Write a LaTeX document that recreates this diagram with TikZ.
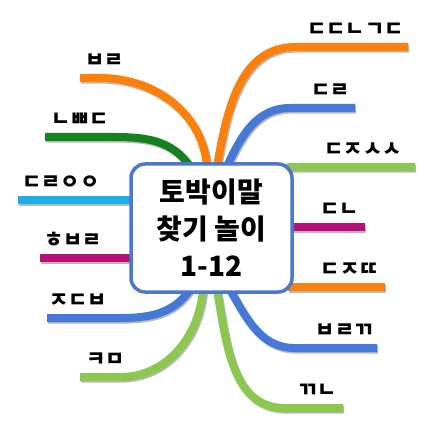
\documentclass[tikz,border=0pt]{standalone}
\usepackage{fontspec}
\newfontfamily\korfont{Noto Sans CJK KR}
\usetikzlibrary{positioning, shadows, backgrounds}
\definecolor{BranchOrange}{RGB}{252,128,10}
\definecolor{BranchBlue}{RGB}{70,120,215}
\definecolor{BranchGreen}{RGB}{20,130,30}
\definecolor{BranchLime}{RGB}{140,200,80}
\definecolor{BranchCyan}{RGB}{25,175,230}
\definecolor{BranchMagenta}{RGB}{185,15,125}
\definecolor{HubColor}{RGB}{75,120,205}
\tikzstyle{branch} = [line width=8pt, preaction={draw=black!28, line width=8pt, transform canvas={shift={(1.2pt,-1.6pt)}}}]
\tikzset{
  hub/.style={rectangle, rounded corners=14pt, draw=HubColor, line width=3.5pt, fill=white,
    minimum width=161pt, minimum height=128pt, align=center,
    font=\korfont\bfseries\fontsize{28}{37}\selectfont,
    drop shadow={opacity=0.25, shadow xshift=1.5pt, shadow yshift=-1.5pt}},
  leaf/.style={inner sep=0pt, font=\korfont\bfseries\fontsize{21}{21}\selectfont}
}

\begin{document}
\begin{tikzpicture}[x=1pt, y=1pt]
  \useasboundingbox (0,0) rectangle (438,423);

  % Centre
  \node[hub] (hub) at (211.5,195) {토박이말\\찾기 놀이\\1-12};

  % Branch ends
  \coordinate (e1) at (80,345);
  \coordinate (e2) at (45,286);
  \coordinate (e3) at (18,223);
  \coordinate (e4) at (40,165);
  \coordinate (e5) at (47,105);
  \coordinate (e6) at (80,46);
  \coordinate (e7) at (408,376);
  \coordinate (e8) at (355,315);
  \coordinate (e9) at (415,256);
  \coordinate (e10) at (365,196);
  \coordinate (e11) at (385,136);
  \coordinate (e12) at (377,75);
  \coordinate (e13) at (343,15);

  % Branches
  \begin{scope}[on background layer]
    \draw[branch, BranchOrange] (e1) -- ++(20,0) to[out=0, in=95] ([xshift=-4.5pt, yshift=-4pt]hub.north);
    \draw[branch, BranchGreen] (e2) -- ++(70,0) to[out=0, in=125] ([xshift=-21.5pt, yshift=-4pt]hub.north);
    \draw[branch, BranchCyan] (e3) -- ([xshift=6pt, yshift=28pt]hub.west);
    \draw[branch, BranchMagenta] (e4) -- ([xshift=6pt, yshift=-30pt]hub.west);
    \draw[branch, BranchBlue] (e5) -- ++(73,0) to[out=0, in=235] ([xshift=-21.5pt, yshift=4pt]hub.south);
    \draw[branch, BranchLime] (e6) -- ++(40,0) to[out=0, in=265] ([xshift=-8.5pt, yshift=4pt]hub.south);
    \draw[branch, BranchOrange] (e7) -- ++(-113,0) to[out=180, in=80] ([xshift=5.5pt, yshift=-4pt]hub.north);
    \draw[branch, BranchBlue] (e8) -- ++(-65,0) to[out=180, in=65] ([xshift=15.5pt, yshift=-4pt]hub.north);
    \draw[branch, BranchLime] (e9) -- ++(-125,0) to[out=180, in=45] ([xshift=-12pt, yshift=-10pt]hub.north east);
    \draw[branch, BranchMagenta] (e10) -- ([xshift=-6pt, yshift=1pt]hub.east);
    \draw[branch, BranchOrange] (e11) -- ([xshift=-6pt, yshift=-59pt]hub.east);
    \draw[branch, BranchBlue] (e12) -- ++(-82,0) to[out=180, in=300] ([xshift=18.5pt, yshift=4pt]hub.south);
    \draw[branch, BranchLime] (e13) -- ++(-58,0) to[out=180, in=280] ([xshift=5.5pt, yshift=4pt]hub.south);
  \end{scope}

  % Labels
  \node[leaf, above right=10pt and 5pt of e1] (l1) {ㅂㄹ};
  \node[leaf, above right=10pt and 6pt of e2] (l2) {ㄴㅃㄷ};
  \node[leaf, above right=10pt and 4pt of e3] (l3) {ㄷㄹㅇㅇ};
  \node[leaf, above right=10pt and 4pt of e4] (l4) {ㅎㅂㄹ};
  \node[leaf, above right=10pt and 2pt of e5] (l5) {ㅈㄷㅂ};
  \node[leaf, above right=10pt and 6pt of e6] (l6) {ㅋㅁ};
  \node[leaf, above left=10pt and 4pt of e7] (l7) {ㄷㄷㄴㄱㄷ};
  \node[leaf, above left=10pt and 5pt of e8] (l8) {ㄷㄹ};
  \node[leaf, above left=10pt and 13pt of e9] (l9) {ㄷㅈㅅㅅ};
  \node[leaf, above left=10pt and 6pt of e10] (l10) {ㄷㄴ};
  \node[leaf, above left=10pt and 6pt of e11] (l11) {ㄷㅈㄸ};
  \node[leaf, above left=10pt and 3pt of e12] (l12) {ㅂㄹㄲ};
  \node[leaf, above left=10pt and 6pt of e13] (l13) {ㄲㄴ};
\end{tikzpicture}
\end{document}
